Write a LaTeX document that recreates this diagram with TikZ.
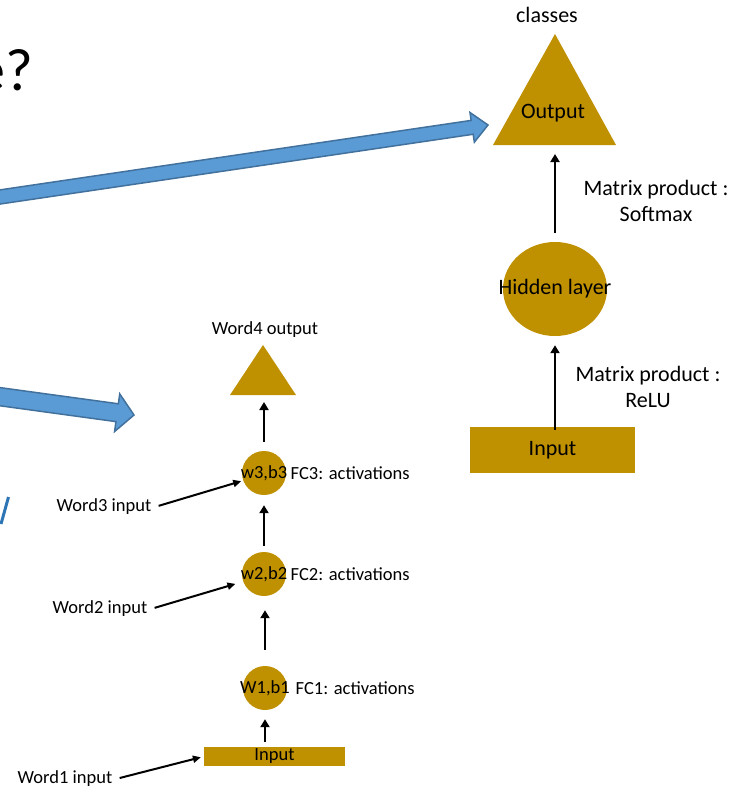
\documentclass[tikz,border=0pt]{standalone}
\usepackage{fontspec}
\setmainfont{Carlito}
\usetikzlibrary{arrows.meta,calc,positioning,shapes.geometric}

\definecolor{gold}{RGB}{191,144,0}
\definecolor{arrowblue}{RGB}{91,155,213}
\definecolor{arrowedge}{RGB}{65,113,156}
\definecolor{titleblue}{RGB}{46,117,182}

% block arrow: start, tip, half shaft, half head, head length
\newcommand{\blockarrow}[5]{
  \coordinate (ba-h) at ($(#2)!#5!(#1)$);
  \filldraw[fill=arrowblue, draw=arrowedge, line width=1.5pt]
    ($(#1)!#3!90:(#2)$) -- ($(ba-h)!#3!90:(#2)$) -- ($(ba-h)!#4!90:(#2)$) -- (#2)
    -- ($(ba-h)!#4!-90:(#2)$) -- ($(ba-h)!#3!-90:(#2)$) -- ($(#1)!#3!-90:(#2)$) -- cycle;
}

\begin{document}
\begin{tikzpicture}[x=1pt, y=-1pt,
  font=\fontsize{18.5}{22}\selectfont,
  big/.style={font=\fontsize{22}{26}\selectfont},
  cell/.style={circle, fill=gold, minimum size=44pt, inner sep=0pt},
  up/.style={-{Triangle[length=8pt,width=9pt]}, line width=2.6pt},
  feed/.style={-{Triangle[length=8pt,width=7pt]}, line width=2pt, shorten <=4pt}]
  \clip (0,0) rectangle (737,788);

  % title fragments
  \node[font=\fontsize{60}{72}\selectfont, anchor=base east, inner sep=0pt] (quest) at (33,90) {e?};
  \draw[titleblue, line width=3pt] (8.5,497) -- (1,524);

  % blue arrows
  \blockarrow{-5,197.7}{488,125}{7pt}{15pt}{16pt}
  \blockarrow{-5,396}{134,415}{9pt}{19pt}{17pt}

  % right network
  \node[big] (cls) at (547,15) {classes};
  \fill[gold] (555,34) -- (616,145) -- (493,145) -- cycle;
  \coordinate (outbase) at (555,145);
  \node[big] (outp) at (553,113) {Output};
  \node[ellipse, fill=gold, minimum width=104pt, minimum height=94pt, inner sep=0pt,
    label={[big]center:Hidden layer}] (hid) at (555,289) {};
  \node[big, fill=gold, minimum width=165pt, minimum height=46pt, inner sep=0pt] (inp) at (552.5,450) {Input};
  \node[big, align=center] (soft) at (656,201) {Matrix product :\\Softmax};
  \node[big, align=center] (relu) at (648,387) {Matrix product :\\ReLU};

  \draw[up, shorten <=-3pt, shorten >=9pt] (inp.north -| hid) -- (hid.south);
  \draw[up, shorten <=9pt, shorten >=9pt] (hid.north) -- (outbase);

  % left network
  \node (wfour) at (265,330) {Word4 output};
  \fill[gold] (263,345) -- (296,395) -- (230,395) -- cycle;
  \coordinate (tri) at (264,395);
  \node[cell, label={center:w3,b3}] (c3) at (264,473) {};
  \node[cell, label={center:w2,b2}] (c2) at (264,574) {};
  \node[cell, label={center:W1,b1}] (c1) at (265,688) {};
  \node[fill=gold, minimum width=141pt, minimum height=19pt, inner sep=0pt] (inp1) at (274.5,756.5) {Input};

  \node[right=1pt of c3] (fc3) {FC3: activations};
  \node[right=1pt of c2] (fc2) {FC2: activations};
  \node[right=5pt of c1] (fc1) {FC1: activations};

  \node (wthree) at (104,507) {Word3 input};
  \node (wtwo) at (100,609) {Word2 input};
  \node (wone) at (65,779) {Word1 input};

  \draw[up, shorten <=5pt, shorten >=9pt] (inp1.north -| c1) -- (c1.south);
  \draw[up, shorten <=16pt, shorten >=14pt] (c1.north) -- (c1.north |- c2.south);
  \draw[up, shorten <=6pt, shorten >=10pt] (c2.north) -- (c3.south);
  \draw[up, shorten <=9pt, shorten >=7pt] (c3.north) -- (tri);

  \draw[feed, shorten >=2pt] (wthree.east) -- (c3.200);
  \draw[feed, shorten >=8pt] (wtwo.east) -- (c2.200);
  \draw[feed, shorten >=3pt] (wone.east) -- (inp1.west);
\end{tikzpicture}
\end{document}
